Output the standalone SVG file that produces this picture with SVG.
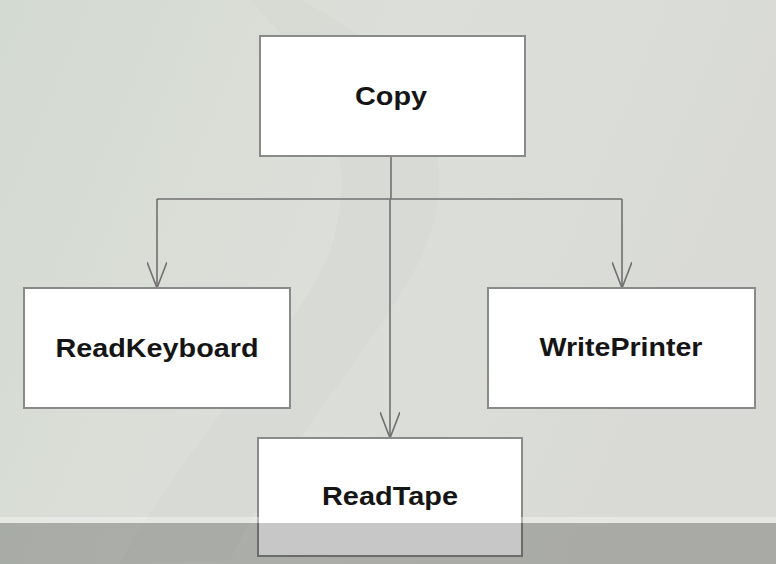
<svg xmlns="http://www.w3.org/2000/svg" width="776" height="564" viewBox="0 0 776 564">
<defs>
<linearGradient id="bg" x1="0" y1="0" x2="1" y2="0.3">
<stop offset="0" stop-color="#d3dad1"/>
<stop offset="0.5" stop-color="#dcdfd9"/>
<stop offset="1" stop-color="#d9dad5"/>
</linearGradient>
<marker id="arr" viewBox="0 0 28 20" refX="26" refY="10" markerWidth="28" markerHeight="20" markerUnits="userSpaceOnUse" orient="auto">
<path d="M0,0 L26,10 L0,20" fill="none" stroke="#707070" stroke-width="1.6"/>
</marker>
<style>
.box{fill:#ffffff;stroke:#8a8a8a;stroke-width:2}
.lbl{font-family:"Liberation Sans",Arial,sans-serif;font-weight:bold;font-size:25px;fill:#151515;text-anchor:middle}
.con{fill:none;stroke:#707070;stroke-width:1.6}
</style>
</defs>
<rect width="776" height="564" fill="url(#bg)"/>
<path d="M300,0 C420,60 470,150 420,260 C380,340 300,420 230,560 L120,564 C200,420 300,330 330,250 C360,160 330,80 250,0 Z" fill="#cfd3cd" opacity="0.3"/>
<g id="connectors">
<path class="con" d="M391,156 L391,199"/>
<path class="con" d="M157,199 L622,199"/>
<path class="con" d="M157,199 L157,288" marker-end="url(#arr)"/>
<path class="con" d="M622,199 L622,288" marker-end="url(#arr)"/>
<path class="con" d="M390,199 L390,438" marker-end="url(#arr)"/>
</g>
<g id="copy">
<rect class="box" x="260" y="36" width="265" height="120"/>
<text class="lbl" x="391" y="105" textLength="72" lengthAdjust="spacingAndGlyphs">Copy</text>
</g>
<g id="readkeyboard">
<rect class="box" x="24" y="288" width="266" height="120"/>
<text class="lbl" x="157" y="357" textLength="203" lengthAdjust="spacingAndGlyphs">ReadKeyboard</text>
</g>
<g id="writeprinter">
<rect class="box" x="488" y="288" width="267" height="120"/>
<text class="lbl" x="621" y="356" textLength="163" lengthAdjust="spacingAndGlyphs">WritePrinter</text>
</g>
<g id="readtape">
<rect class="box" x="258" y="438" width="264" height="118"/>
<text class="lbl" x="390" y="505" textLength="136" lengthAdjust="spacingAndGlyphs">ReadTape</text>
</g>
<rect x="0" y="517" width="776" height="6" fill="#ffffff" opacity="0.35"/>
<rect x="0" y="523" width="776" height="41" fill="#000000" opacity="0.22"/>
</svg>
